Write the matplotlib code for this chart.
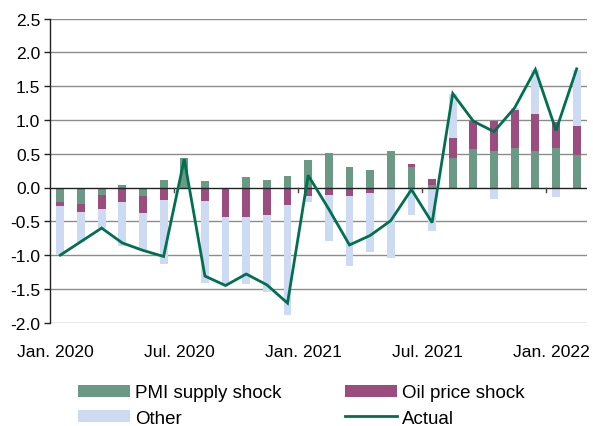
import matplotlib
matplotlib.use("Agg")
import matplotlib.pyplot as plt
import matplotlib.transforms as mtransforms
import numpy as np

plt.rcParams['font.family'] = ['Liberation Sans', 'DejaVu Sans']
plt.rcParams['axes.unicode_minus'] = False

months = ["Jan. 2020", "Feb. 2020", "Mar. 2020", "Apr. 2020", "May 2020", "Jun. 2020",
          "Jul. 2020", "Aug. 2020", "Sep. 2020", "Oct. 2020", "Nov. 2020", "Dec. 2020",
          "Jan. 2021", "Feb. 2021", "Mar. 2021", "Apr. 2021", "May 2021", "Jun. 2021",
          "Jul. 2021", "Aug. 2021", "Sep. 2021", "Oct. 2021", "Nov. 2021", "Dec. 2021",
          "Jan. 2022", "Feb. 2022"]

pmi = [-0.22, -0.245, -0.11, 0.035, -0.13, 0.11,
       0.44, 0.10, 0.0, 0.15, 0.11, 0.17,
       0.40, 0.505, 0.30, 0.26, 0.54, 0.30,
       0.035, 0.43, 0.575, 0.535, 0.59, 0.535,
       0.585, 0.476]
oil = [-0.055, -0.115, -0.21, -0.21, -0.25, -0.19,
       0.0, -0.20, -0.44, -0.43, -0.40, -0.26,
       -0.12, -0.11, -0.12, -0.08, 0.0, 0.055,
       0.09, 0.30, 0.415, 0.455, 0.55, 0.545,
       0.385, 0.44]
other = [-0.73, -0.44, -0.28, -0.65, -0.55, -0.94,
         0.0, -1.21, -1.0, -1.0, -1.15, -1.62,
         -0.10, -0.68, -1.04, -0.88, -1.04, -0.40,
         -0.64, 0.66, 0.0, -0.17, 0.04, 0.665,
         -0.14, 0.825]
actual = [-1.0, -0.8, -0.6, -0.82, -0.93, -1.02,
          0.42, -1.31, -1.45, -1.28, -1.44, -1.71,
          0.18, -0.32, -0.85, -0.71, -0.49, -0.03,
          -0.52, 1.39, 0.98, 0.826, 1.18, 1.745,
          0.845, 1.755]

xtick_labels = ["Jan. 2020", "Jul. 2020", "Jan. 2021", "Jul. 2021", "Jan. 2022"]
ytick_values = [-2.0, -1.5, -1.0, -0.5, 0.0, 0.5, 1.0, 1.5, 2.0, 2.5]

c_pmi = "#6A9A85"
c_oil = "#9B4D80"
c_other = "#CCDAF3"
c_actual = "#00704F"

FS = 12.6
LFS = 13.5

fig = plt.figure(figsize=(5.93, 4.27), dpi=100)
ax = fig.add_axes([50/593, 1-323.7/427, (587-50)/593, (323.7-19.5)/427])

x = np.arange(len(months))
w = 0.38
pos_base = np.zeros(len(months))
neg_base = np.zeros(len(months))
series = [(pmi, c_pmi, "PMI supply shock"), (oil, c_oil, "Oil price shock"), (other, c_other, "Other")]
handles = {}
for vals, col, lab in series:
    v = np.array(vals)
    bottoms = np.where(v >= 0, pos_base, neg_base)
    b = ax.bar(x, v, w, bottom=bottoms, color=col, label=lab, zorder=2, linewidth=0)
    handles[lab] = b
    pos_base = pos_base + np.where(v >= 0, v, 0)
    neg_base = neg_base + np.where(v < 0, v, 0)

ln, = ax.plot(x, actual, color=c_actual, lw=2.0, zorder=4, label="Actual", solid_joinstyle='miter')

ax.set_xlim(-0.5, len(months) - 0.5)
ax.set_ylim(-2.0, 2.5)
ax.set_yticks(ytick_values)
ax.set_yticklabels([f"{v:.1f}" for v in ytick_values])
for v in ytick_values:
    if v != 0.0:
        ax.axhline(v, color="#8C8C8C", lw=1.0, zorder=1)
ax.axhline(0, color="#222222", lw=1.0, zorder=3)

lab_idx = [months.index(m) for m in xtick_labels]
ax.set_xticks(lab_idx)
ax.set_xticklabels(xtick_labels)
ax.tick_params(axis='x', length=0, pad=15, labelsize=FS)
ax.tick_params(axis='y', length=4, width=1, direction='out', labelsize=FS, pad=3, color="#222222")
shift = mtransforms.ScaledTranslation(-5/100, 0, fig.dpi_scale_trans)
for t in ax.get_xticklabels():
    t.set_transform(t.get_transform() + shift)

# small ticks at half-year boundaries on the zero line
for i in lab_idx[1:]:
    ax.plot([i - 0.5, i - 0.5], [0, -0.06], color="#444444", lw=1.0, zorder=3)

for s in ["top", "right", "bottom"]:
    ax.spines[s].set_visible(False)
ax.spines["left"].set_color("#222222")
ax.spines["left"].set_linewidth(1.0)

fig.legend([handles["PMI supply shock"], handles["Other"], handles["Oil price shock"], ln],
           ["PMI supply shock", "Other", "Oil price shock", "Actual"],
           ncol=2, loc="center", bbox_to_anchor=(301.5/593, 1-406.5/427),
           frameon=False, fontsize=LFS, handlelength=2.77, handleheight=0.65,
           labelspacing=0.44, columnspacing=3.4, handletextpad=0.27, borderaxespad=0)

fig.savefig("out.png", dpi=100)
